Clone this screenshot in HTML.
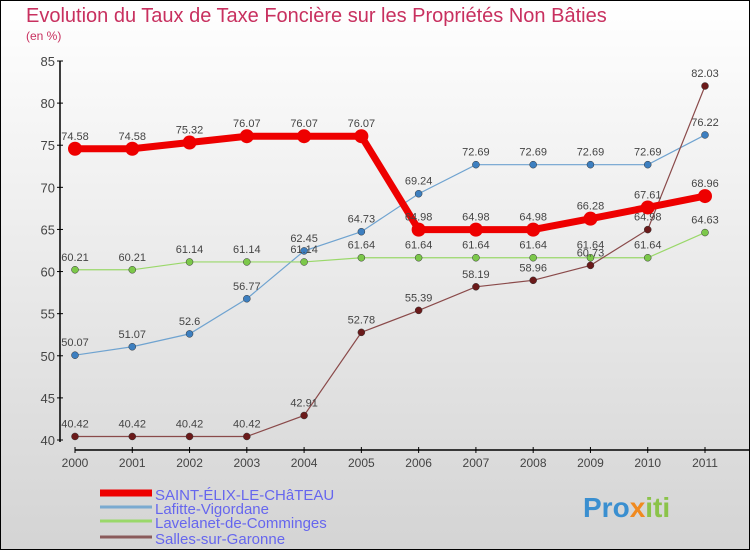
<!DOCTYPE html>
<html><head><meta charset="utf-8"><style>
body{margin:0}
#wrap{position:relative;width:750px;height:550px;overflow:hidden;font-family:"Liberation Sans",sans-serif}
</style></head><body>
<div id="wrap">
<svg id="chart" width="750" height="550" xmlns="http://www.w3.org/2000/svg">
<defs><linearGradient id="bg" x1="0" y1="0" x2="0" y2="1"><stop offset="0" stop-color="#ffffff"/><stop offset="1" stop-color="#d4d4d4"/></linearGradient></defs>
<rect x="0.5" y="0.5" width="749" height="549" fill="url(#bg)" stroke="#000"/>
<text x="26" y="22" font-size="20" fill="#c8305f">Evolution du Taux de Taxe Foncière sur les Propriétés Non Bâties</text>
<text x="26" y="40" font-size="12" fill="#c8305f">(en %)</text>
<g id="axes"></g><g id="series"></g><g id="legend"></g>
<text x="583" y="517" font-size="28" font-weight="bold" fill="#3a8fd0">Pro<tspan fill="#f08a20">x</tspan><tspan fill="#8bc34a">iti</tspan></text>
</svg>
</div>
<script>
const years=[2000,2001,2002,2003,2004,2005,2006,2007,2008,2009,2010,2011];
const yTicks=[40,45,50,55,60,65,70,75,80,85];
const seriesNames=["SAINT-ÉLIX-LE-CHâTEAU","Lafitte-Vigordane","Lavelanet-de-Comminges","Salles-sur-Garonne"];
const stElix=[74.58,74.58,75.32,76.07,76.07,76.07,64.98,64.98,64.98,66.28,67.61,68.96];
const lafitte=[50.07,51.07,52.6,56.77,62.45,64.73,69.24,72.69,72.69,72.69,72.69,76.22];
const lavelanet=[60.21,60.21,61.14,61.14,61.14,61.64,61.64,61.64,61.64,61.64,61.64,64.63];
const salles=[40.42,40.42,40.42,40.42,42.91,52.78,55.39,58.19,58.96,60.73,64.98,82.03];
const NS="http://www.w3.org/2000/svg";
const x=i=>75+i*(630/11);
const y=v=>440-(v-40)*(379/45);
function mk(t,a,p){const e=document.createElementNS(NS,t);for(const k in a)e.setAttribute(k,a[k]);p.appendChild(e);return e;}
const ax=document.getElementById('axes');
let l=mk('line',{x1:60,y1:61,x2:60,y2:442,stroke:'#000','stroke-width':1.5},ax);


l=mk('line',{x1:75,y1:450,x2:750,y2:450,stroke:'#000','stroke-width':1.5},ax);


yTicks.forEach(v=>{mk('line',{x1:57,y1:y(v),x2:63,y2:y(v),stroke:'#000'},ax);
const t=mk('text',{x:55,y:y(v)+5,'text-anchor':'end','font-size':13,fill:'#444'},ax);t.textContent=v;

});
years.forEach((yr,i)=>{mk('line',{x1:x(i),y1:447,x2:x(i),y2:453,stroke:'#000'},ax);
const t=mk('text',{x:x(i),y:467,'text-anchor':'middle','font-size':12,fill:'#444'},ax);t.textContent=yr;

});
const sg=document.getElementById('series');
const defs=[[lafitte,'#6fa3d0','#3d7fc0',1.2,3.5,'lafitte'],[lavelanet,'#9ad86a','#7cc84a',1.2,3.5,'lavelanet'],[salles,'#8a4a4a','#6b1a1a',1.2,3.5,'salles'],[stElix,'#ee0000','#ee0000',7,7,'saint-elix']];
defs.forEach(([d,lc,pc,w,r,n])=>{
const g=mk('g',{},sg);


const p=mk('polyline',{points:d.map((v,i)=>x(i)+','+y(v)).join(' '),fill:'none',stroke:lc,'stroke-width':w},g);


d.forEach((v,i)=>{const c=mk('circle',{cx:x(i),cy:y(v),r:r,fill:pc,stroke:'#333','stroke-width':r>5?0:0.5},g);


const t=mk('text',{x:x(i),y:y(v)-9,'text-anchor':'middle','font-size':11,fill:'#444'},g);t.textContent=v;

});
});
const lg=document.getElementById('legend');
const lcol=['#ee0000','#7aaad0','#9ad86a','#8a5a5a'],lw=[7,3,3,3],ly=[495,509,523,539];
seriesNames.forEach((n,i)=>{const e=mk('line',{x1:100,y1:ly[i]-2,x2:152,y2:ly[i]-2,stroke:lcol[i],'stroke-width':lw[i]},lg);


const t=mk('text',{x:155,y:ly[i]+5,'font-size':15,fill:'#6666ee'},lg);t.textContent=n;

});
</script>
</body></html>
